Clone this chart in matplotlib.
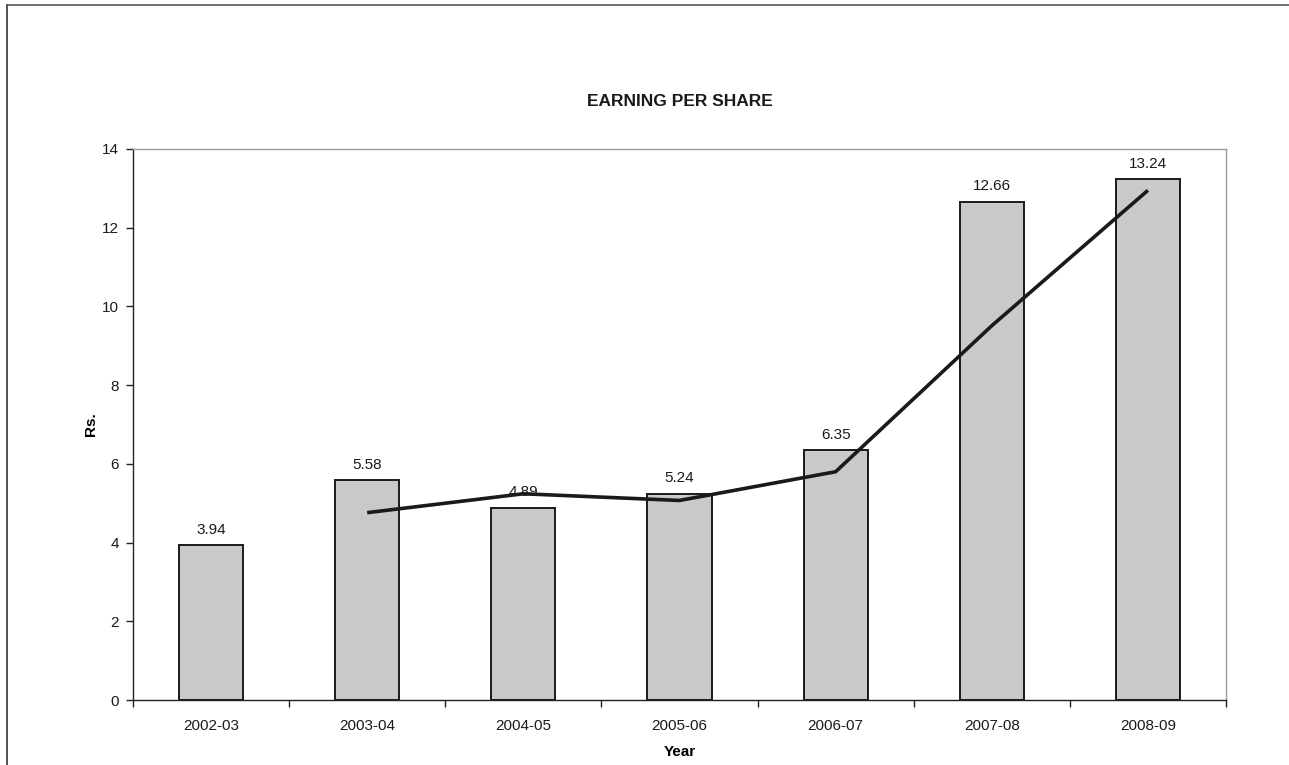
import matplotlib.pyplot as plt
import numpy as np
from matplotlib.lines import Line2D

plt.rcParams['font.family'] = ['Liberation Sans', 'DejaVu Sans']

# earning per share by financial year
years = ['2002-03', '2003-04', '2004-05', '2005-06', '2006-07', '2007-08', '2008-09']
eps = [3.94, 5.58, 4.89, 5.24, 6.35, 12.66, 13.24]
# 2-period moving average trend, starts from the second year
trend = [4.76, 5.24, 5.07, 5.80, 9.51, 12.95]

W, H = 1289, 765
fig = plt.figure(figsize=(W / 100, H / 100), dpi=100)
ax = fig.add_axes([133 / W, 1 - 700 / H, (1226 - 133) / W, (700 - 149) / H])

x = np.arange(len(years))
ax.bar(x, eps, width=0.41, color='#c8c9cb', edgecolor='#1a1a1a', linewidth=1.4, zorder=2)
ax.plot(x[1:], trend, color='#1a1a1a', linewidth=2.6, zorder=3, solid_capstyle='butt')

for xi, v in zip(x, eps):
    ax.annotate('%.2f' % v, (xi, v), xytext=(0, 6), textcoords='offset points',
                ha='center', va='bottom', fontsize=11, color='#1a1a1a')

ax.set_xlim(-0.5, len(years) - 0.5)
ax.set_ylim(0, 14)
ax.set_yticks(range(0, 15, 2))
ax.set_xticks(x)
ax.set_xticklabels(years)
# tick marks sit between the categories
ax.set_xticks(np.arange(-0.5, len(years), 1), minor=True)
ax.tick_params(axis='x', which='major', length=0, pad=14, labelsize=11, labelcolor='#1a1a1a')
ax.tick_params(axis='x', which='minor', length=5, width=1, direction='out', color='#222222')
ax.tick_params(axis='y', length=5, width=1, pad=5, labelsize=11, labelcolor='#1a1a1a', color='#222222')

ax.spines['left'].set_color('#222222')
ax.spines['bottom'].set_color('#222222')
ax.spines['top'].set_color('#999999')
ax.spines['right'].set_color('#999999')
for s in ax.spines.values():
    s.set_linewidth(1.0)

ax.set_xlabel('Year', fontsize=11, fontweight='bold', labelpad=8)
ax.set_ylabel('Rs.', fontsize=11, fontweight='bold', labelpad=3)
fig.text(680 / W, 1 - 102 / H, 'EARNING PER SHARE', ha='center', va='center',
         fontsize=12.5, fontweight='bold', color='#1a1a1a')

# outer chart frame (left and top edges)
fig.add_artist(Line2D([7 / W, 7 / W], [0, 1 - 4.5 / H], transform=fig.transFigure,
                      color='#333333', linewidth=1.2))
fig.add_artist(Line2D([7 / W, 1], [1 - 4.5 / H, 1 - 4.5 / H], transform=fig.transFigure,
                      color='#555555', linewidth=1.2))

fig.savefig('out.png', dpi=100)
